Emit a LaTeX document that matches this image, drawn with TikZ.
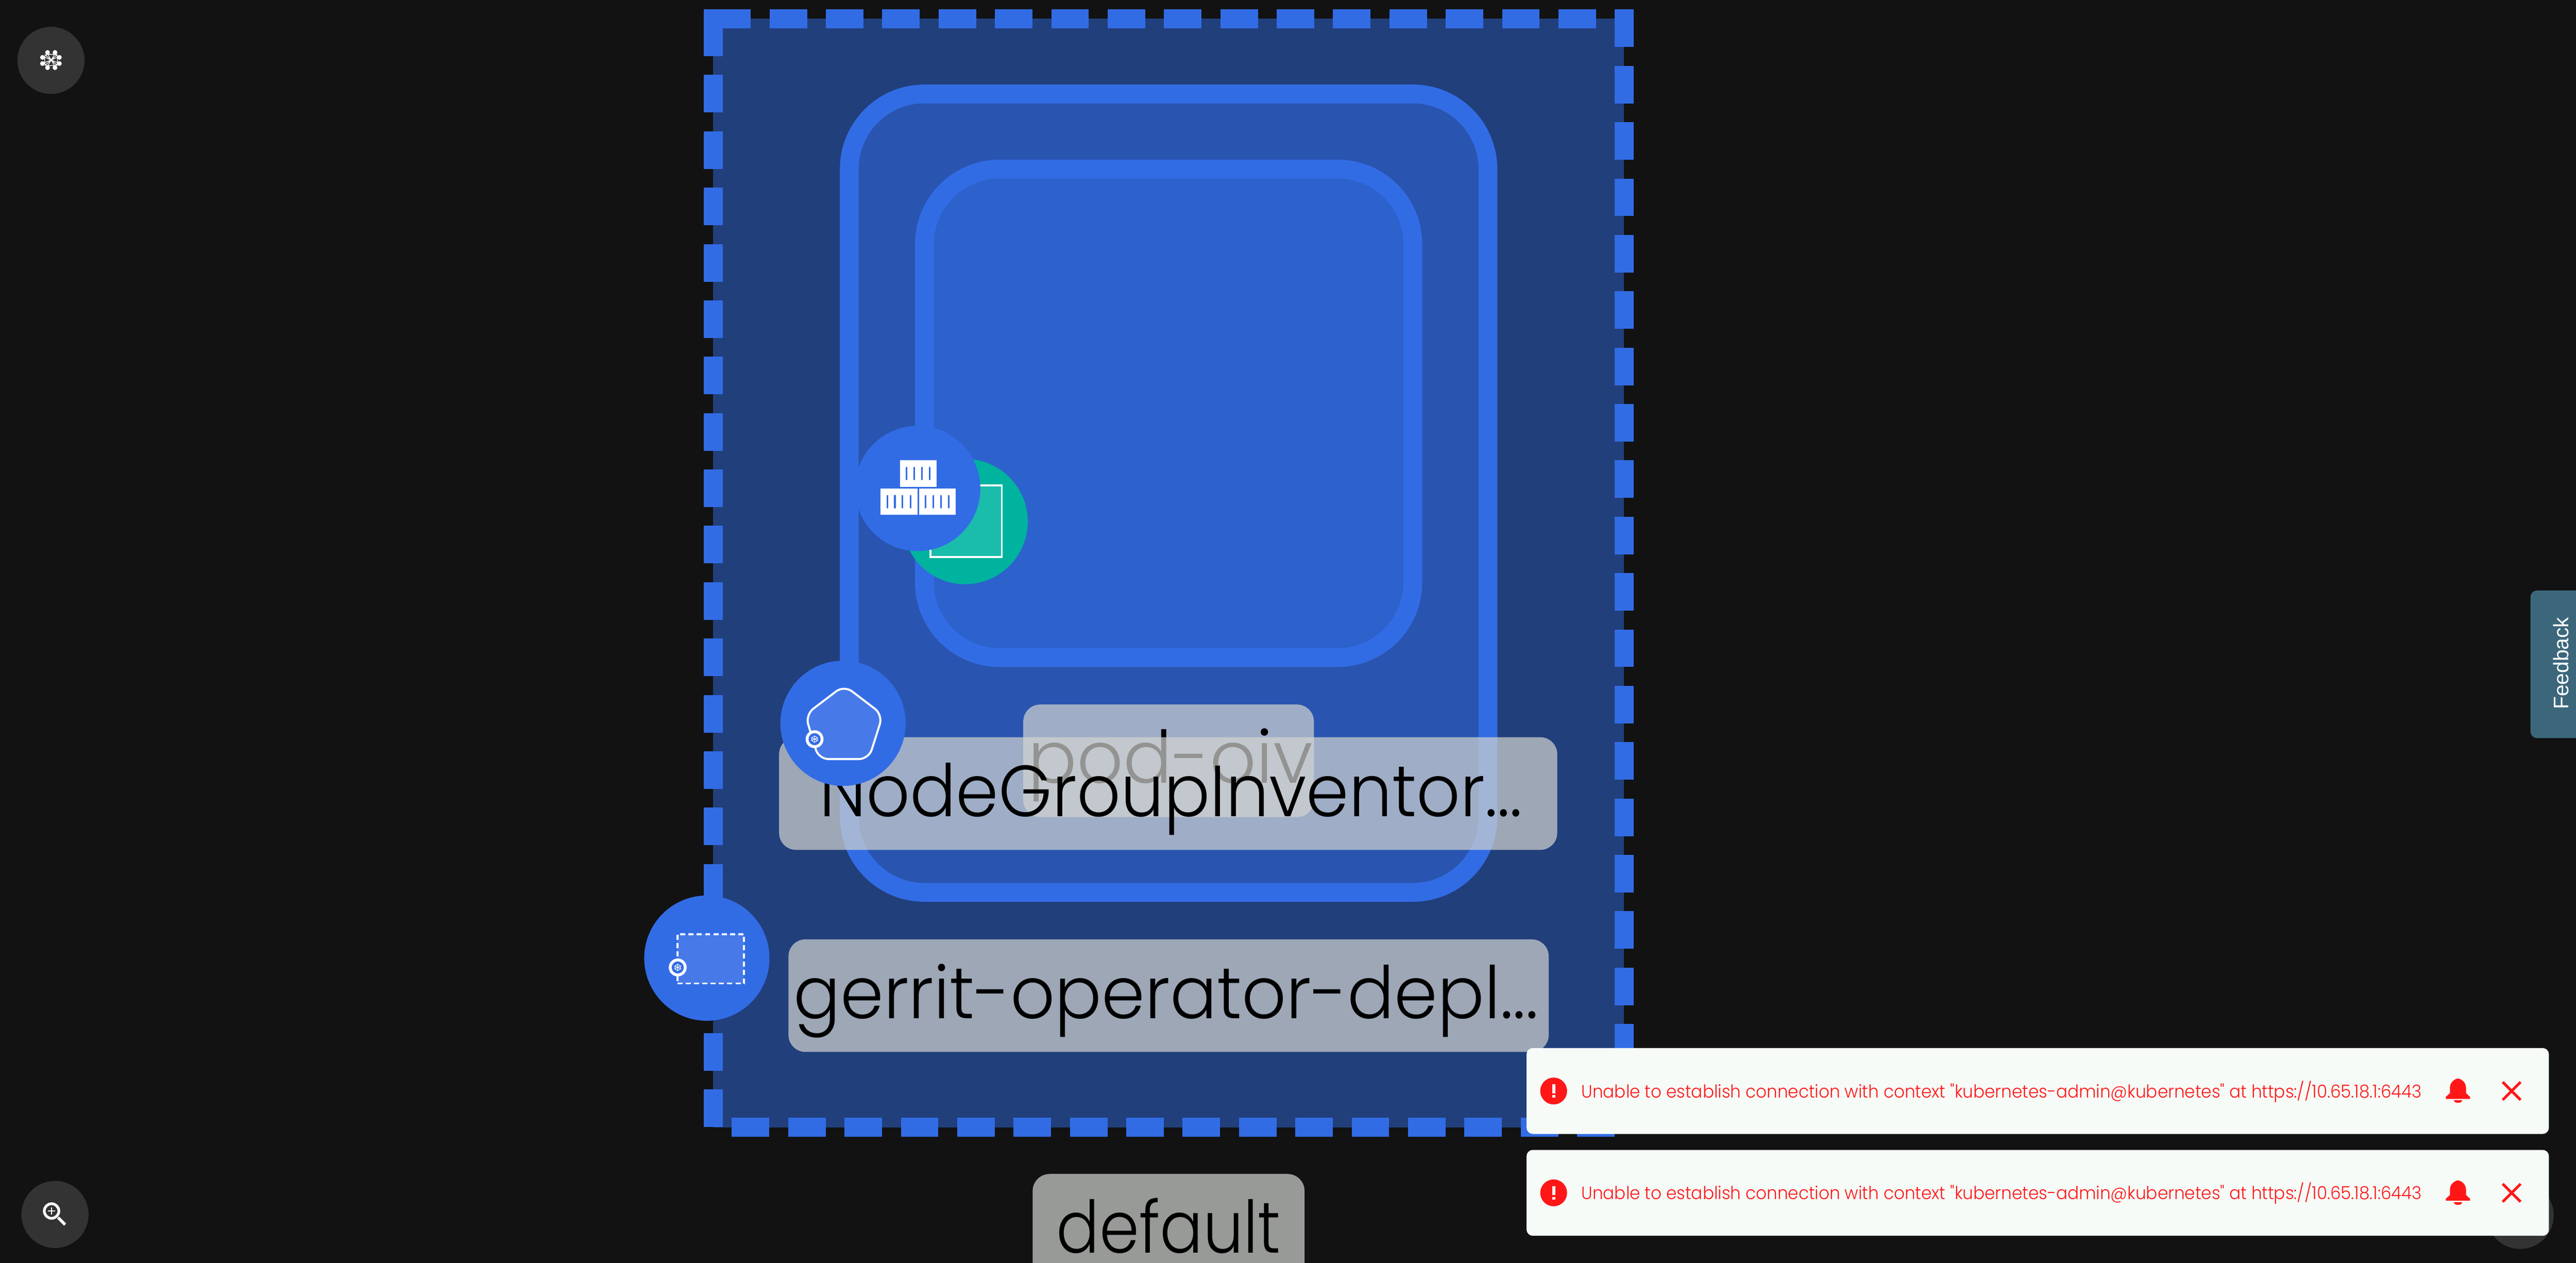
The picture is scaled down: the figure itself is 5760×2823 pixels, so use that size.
\documentclass[tikz,border=0pt]{standalone}
\usepackage{fontspec}
\setmainfont{Poppins Light}
\newfontfamily\groupfont{Poppins Light}[FakeStretch=0.943]
\newfontfamily\deployfont{Poppins Light}[FakeStretch=0.958]
\newfontfamily\nsfont{Poppins Light}[FakeStretch=0.88]
\newfontfamily\alertfont{Poppins Light}[FakeStretch=0.941]
\newfontfamily\sidefont{Liberation Sans}
\definecolor{canvas}{HTML}{121212}
\definecolor{knob}{HTML}{333333}
\definecolor{kubeblue}{HTML}{326CE5}
\definecolor{outerblue}{HTML}{213F7B}
\definecolor{midblue}{HTML}{2955B0}
\definecolor{innerblue}{HTML}{2D61CC}
\definecolor{iconblue}{HTML}{477AE8}
\definecolor{teal}{HTML}{00B39F}
\definecolor{tealfill}{HTML}{1ABCAB}
\definecolor{labelgray}{HTML}{D2D4D0}
\definecolor{feedbackblue}{HTML}{3C677B}
\definecolor{cardwhite}{HTML}{F6FBF7}
\definecolor{alertred}{HTML}{FF1717}

\begin{document}
\begin{tikzpicture}[x=1pt,y=-1pt]
\tikzstyle{groupbox}=[draw=kubeblue,line width=42pt,rounded corners=168pt,inner sep=0pt]
\tikzstyle{labelbox}=[inner sep=0pt,fill=labelgray,fill opacity=.7,text opacity=1,rounded corners=38pt,anchor=base,text=black]
\tikzstyle{badge}=[circle,inner sep=0pt,minimum size=280pt,fill=kubeblue]
\tikzstyle{knobby}=[circle,inner sep=0pt,minimum size=150pt,fill=knob]
\tikzstyle{crate}=[inner sep=0pt,fill=white,minimum width=82pt,minimum height=59pt,anchor=north west]
\tikzstyle{slit}=[kubeblue,line width=3.5pt,line cap=round]
\tikzstyle{iconline}=[draw=white,line width=4.5pt]
\tikzstyle{kubering}=[circle,inner sep=0pt,minimum size=40pt,fill=white]
\tikzstyle{kubewheel}=[circle,inner sep=0pt,minimum size=27pt,fill=kubeblue]
\tikzstyle{spoke}=[white,line width=1.2pt]
\tikzstyle{petal}=[circle,inner sep=0pt,minimum size=10.6pt,fill=white]
\tikzstyle{card}=[inner sep=0pt,fill=cardwhite,rounded corners=14pt,minimum width=2286pt,minimum height=192pt]
\tikzstyle{alertdot}=[circle,inner sep=0pt,minimum size=60pt,fill=alertred]
\tikzstyle{alerttext}=[inner sep=0pt,anchor=base west,text=alertred,font=\alertfont\fontsize{40pt}{48pt}\selectfont]
\tikzset{font=\fontsize{162pt}{180pt}\selectfont}

        \path[use as bounding box,clip] (0,0) rectangle (5760,2823);
        \fill[canvas] (0,0) rectangle (5760,2823);

        % corner buttons
        \node[knobby] (menu) at (114,135) {};
        \node[petal] (p1) at (106.3,117.3) {};
        \node[petal] (p2) at (123,117.3) {};
        \node[petal] (p3) at (95,128.3) {};
        \node[petal] (p4) at (132.7,128.3) {};
        \node[petal] (p5) at (95,142) {};
        \node[petal] (p6) at (132.7,142) {};
        \node[petal] (p7) at (106.3,151.3) {};
        \node[petal] (p8) at (123,151.3) {};
        \draw[white,line width=1.5pt,rounded corners=6pt] (100,121.7) rectangle (128.5,146.7);
        \draw[white,line width=1.5pt] (100,121.7) -- (128.5,146.7) (128.5,121.7) -- (100,146.7) (107,121.7) -- (122,146.7) (122,121.7) -- (107,146.7) (100,128) -- (128.5,140) (128.5,128) -- (100,140);

        \node[knobby] (zoom) at (123,2715) {};
        \draw[white,line width=6pt] (115.3,2707.3) circle (16.3);
        \draw[white,line width=2.5pt] (107.6,2707.3) -- (123,2707.3) (115.3,2699.6) -- (115.3,2715);
        \draw[white,line width=6.5pt] (130,2722) -- (145.7,2737.7);
        \node[knobby] (hidden) at (5635,2717) {};

        % feedback tab
        \node[inner sep=0pt,fill=feedbackblue,rounded corners=15pt,minimum width=200pt,minimum height=330pt] (tab) at (5758,1485) {};
        \node[rotate=90,anchor=base,inner sep=0pt,text=white,font=\sidefont\fontsize{47pt}{50pt}\selectfont] (feedback) at (5742.7,1483) {Feedback};

        % namespace group, path keeps the dashes in step with the corners
        \draw[fill=outerblue,draw=kubeblue,line width=42pt,dash pattern=on 84pt off 42pt] (1594.7,42) -- (3631.5,42) -- (3631.5,2520) -- (1594.7,2520) -- cycle;
        \fill[kubeblue] (1573.7,21) rectangle (1595,43);

        \node[groupbox,fill=midblue,minimum width=1428pt,minimum height=1785pt] (nodegroup) at (2613,1102.5) {};
        \node[groupbox,fill=innerblue,minimum width=1092pt,minimum height=1092pt] (pod) at (2613,924) {};

        \node[labelbox,minimum width=650pt,text height=175.7pt,text depth=76pt] (podlabel) at (2613,1750.7) {\hspace*{8pt}pod-oiv};
        \node[labelbox,minimum width=1740pt,text height=177pt,text depth=75pt,font=\groupfont\fontsize{162pt}{180pt}\selectfont] (nodegrouplabel) at (2612,1825) {\hspace*{12pt}NodeGroupInventor...};
        \node[labelbox,minimum width=1700pt,text height=176.8pt,text depth=74.9pt,font=\deployfont\fontsize{162pt}{180pt}\selectfont] (deploylabel) at (2613,2276.8) {gerrit-operator-depl...\hspace*{12pt}};
        \node[labelbox,minimum width=608pt,text height=176.5pt,text depth=75pt,font=\nsfont\fontsize{162pt}{180pt}\selectfont] (nslabel) at (2613,2801) {default};

        % pod and container badges
        \node[badge,fill=teal] (podbadge) at (2158,1166) {};
        \draw[iconline,fill=tealfill] (2081,1085) rectangle (2240,1245);
        \node[badge] (containerbadge) at (2052,1092) {};

        \node[crate] (crate1) at (2012,1029) {};
        \draw[slit] (2027,1045) -- (2027,1072);
        \draw[slit] (2044,1045) -- (2044,1072);
        \draw[slit] (2061,1045) -- (2061,1072);
        \draw[slit] (2078.6,1045) -- (2078.6,1072);
        \node[crate] (crate2) at (1969,1092) {};
        \draw[slit] (1984,1108) -- (1984,1135);
        \draw[slit] (2001,1108) -- (2001,1135);
        \draw[slit] (2018,1108) -- (2018,1135);
        \draw[slit] (2035.6,1108) -- (2035.6,1135);
        \node[crate] (crate3) at (2055,1092) {};
        \draw[slit] (2070,1108) -- (2070,1135);
        \draw[slit] (2087,1108) -- (2087,1135);
        \draw[slit] (2104,1108) -- (2104,1135);
        \draw[slit] (2121.6,1108) -- (2121.6,1135);

        % nodegroup badge
        \node[badge] (groupbadge) at (1885,1617) {};
        \draw[iconline,fill=iconblue,rounded corners=22pt] (1887.4,1532) -- (1974,1598) -- (1942.5,1697) -- (1830.5,1697) -- (1800.7,1598) -- cycle;
        \node[kubering] (groupring) at (1821.4,1652.5) {};
        \node[kubewheel] (groupwheel) [at=(groupring)] {};
        \draw[spoke] (1821.4,1652.5) circle (6.5);
        \draw[spoke] (1821.4,1644) -- (1821.4,1661) (1813.5,1649) -- (1829.3,1656) (1813.5,1656) -- (1829.3,1649);

        % deployment badge
        \node[badge] (deploybadge) at (1580.5,2142) {};
        \node[iconline,fill=iconblue,inner sep=0pt,minimum width=148pt,minimum height=110pt,dash pattern=on 11.5pt off 7pt] (deploybox) at (1589,2143.6) {};
        \node[kubering] (deployring) at (1515.4,2162.8) {};
        \node[kubewheel] (deploywheel) [at=(deployring)] {};
        \draw[spoke] (1515.4,2162.8) circle (6.5);
        \draw[spoke] (1515.4,2154.3) -- (1515.4,2171.3) (1507.5,2159.3) -- (1523.3,2166.3) (1507.5,2166.3) -- (1523.3,2159.3);

        % first alert
        \node[card] (card1) at (4556.4,2439) {};
        \node[alertdot] (alert1) at (3474,2439) {};
        \draw[white,line width=7pt] (3474,2424) -- (3474,2444) (3474,2448) -- (3474,2454);
        \node[alerttext] (message1) at (3536,2454) {Unable to establish connection with context "kubernetes-admin@kubernetes" at https://10.65.18.1:6443};
        \fill[alertred] (5496,2411) .. controls (5489,2412) and (5478,2419) .. (5478,2432) -- (5478,2444) -- (5469,2452) -- (5469,2456.7) -- (5523,2456.7) -- (5523,2452) -- (5514,2444) -- (5514,2432) .. controls (5514,2419) and (5503,2412) .. (5496,2411) -- cycle;
        \fill[alertred] (5487,2460) -- (5505,2460) .. controls (5505,2468) and (5487,2468) .. (5487,2460) -- cycle;
        \draw[alertred,line width=6pt] (5596,2419) -- (5636,2459) (5636,2419) -- (5596,2459);

        % second alert
        \node[card] (card2) at (4556.4,2666.7) {};
        \node[alertdot] (alert2) at (3474,2666.7) {};
        \draw[white,line width=7pt] (3474,2651.7) -- (3474,2671.7) (3474,2675.7) -- (3474,2681.7);
        \node[alerttext] (message2) at (3536,2681.7) {Unable to establish connection with context "kubernetes-admin@kubernetes" at https://10.65.18.1:6443};
        \fill[alertred] (5496,2638.7) .. controls (5489,2639.7) and (5478,2646.7) .. (5478,2659.7) -- (5478,2671.7) -- (5469,2679.7) -- (5469,2684.4) -- (5523,2684.4) -- (5523,2679.7) -- (5514,2671.7) -- (5514,2659.7) .. controls (5514,2646.7) and (5503,2639.7) .. (5496,2638.7) -- cycle;
        \fill[alertred] (5487,2687.7) -- (5505,2687.7) .. controls (5505,2695.7) and (5487,2695.7) .. (5487,2687.7) -- cycle;
        \draw[alertred,line width=6pt] (5596,2646.7) -- (5636,2686.7) (5636,2646.7) -- (5596,2686.7);

\end{tikzpicture}
\end{document}
